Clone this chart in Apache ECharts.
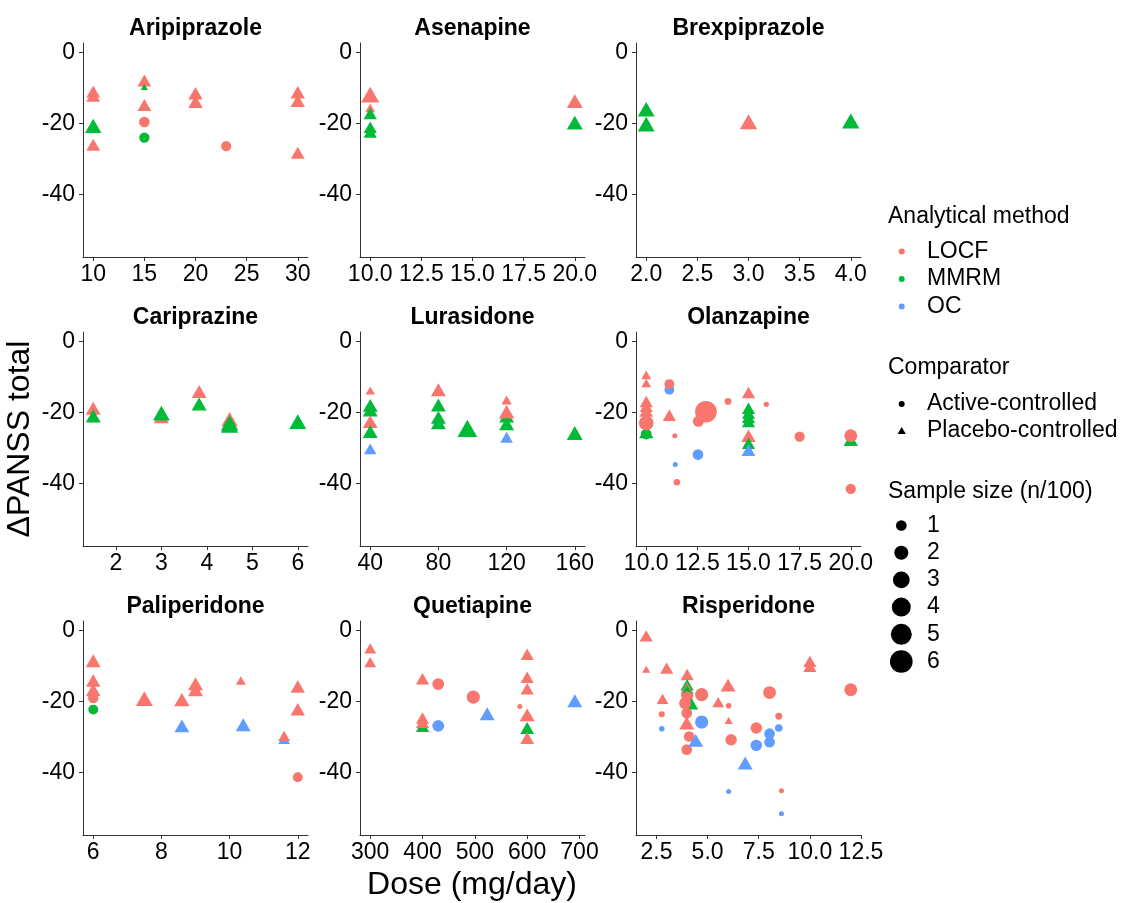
<!DOCTYPE html>
<html><head><meta charset="utf-8">
<script src="https://cdn.jsdelivr.net/npm/echarts@6/dist/echarts.min.js"></script>
<style>html,body{margin:0;padding:0;background:#fff}#c{width:1121px;height:903px}</style>
</head><body><div id="c"></div>
<script>
// ---------- data: [dose, ΔPANSS, n/100, method, comparator] ----------
const drugs = ['Aripiprazole','Asenapine','Brexpiprazole','Cariprazine','Lurasidone','Olanzapine','Paliperidone','Quetiapine','Risperidone'];

const aripiprazole = [
  [10,-11,0.9,'LOCF','P'],[10,-12.2,0.9,'LOCF','P'],[10,-20.7,1.4,'MMRM','P'],[10,-26,0.9,'LOCF','P'],
  [15,-7.9,0.9,'LOCF','P'],[15,-9.7,0.12,'MMRM','P'],[15,-14.8,0.9,'LOCF','P'],[15,-19.6,1.0,'LOCF','A'],[15,-24,0.9,'MMRM','A'],
  [20,-11.5,1.0,'LOCF','P'],[20,-13.9,1.0,'LOCF','P'],[23,-26.4,0.9,'LOCF','A'],
  [30,-11.2,1.0,'LOCF','P'],[30,-13.6,1.0,'LOCF','P'],[30,-28.3,0.9,'LOCF','P']
];
const asenapine = [
  [10,-11.9,1.8,'LOCF','P'],[10,-15.6,0.37,'LOCF','P'],[10,-17.2,0.8,'MMRM','P'],[10,-21.1,0.8,'MMRM','P'],[10,-22.4,0.8,'MMRM','P'],
  [20,-13.7,1.3,'LOCF','P'],[20,-19.8,1.3,'MMRM','P']
];
const brexpiprazole = [
  [2,-16,1.5,'MMRM','P'],[2,-20.2,1.5,'MMRM','P'],[3,-19.5,1.6,'LOCF','P'],[4,-19.3,1.6,'MMRM','P']
];
const cariprazine = [
  [1.5,-18.8,1.1,'LOCF','P'],[1.5,-21,1.1,'MMRM','P'],[3,-21.2,1.1,'LOCF','P'],[3,-20.2,1.5,'MMRM','P'],
  [3.83,-14.1,1.1,'LOCF','P'],[3.83,-17.6,1.1,'MMRM','P'],[4.5,-21.9,1.4,'LOCF','P'],[4.5,-23,1.6,'MMRM','P'],[4.5,-23.6,1.6,'MMRM','P'],
  [6,-22.6,1.5,'MMRM','P']
];
const lurasidone = [
  [40,-13.8,0.3,'LOCF','P'],[40,-18,1.1,'MMRM','P'],[40,-19.3,1.1,'MMRM','P'],[40,-22.6,1.1,'LOCF','P'],[40,-25.4,1.1,'MMRM','P'],[40,-30.3,0.7,'OC','P'],
  [80,-13.6,1.1,'LOCF','P'],[80,-17.9,1.1,'MMRM','P'],[80,-21.4,1.1,'MMRM','P'],[80,-22.9,1.1,'MMRM','P'],
  [97,-24.5,2.2,'MMRM','P'],
  [120,-16.5,0.4,'LOCF','P'],[120,-21,1.1,'MMRM','P'],[120,-19.8,1.2,'LOCF','P'],[120,-23.2,1.1,'MMRM','P'],[120,-27,0.7,'OC','P'],
  [160,-25.8,1.3,'MMRM','P']
];
const olanzapine = [
  [10,-9.4,0.35,'LOCF','P'],[10,-11.7,0.35,'LOCF','P'],[10,-16.9,0.8,'LOCF','P'],[10,-18.3,0.8,'LOCF','P'],[10,-19.5,0.9,'LOCF','P'],
  [10,-25.5,1.0,'MMRM','P'],[10,-26.1,1.0,'MMRM','A'],[10,-23,2.2,'LOCF','A'],
  [11.13,-13.6,0.8,'OC','A'],[11.13,-12,0.8,'LOCF','A'],[11.13,-20.8,0.8,'LOCF','P'],
  [11.4,-26.6,0.1,'LOCF','A'],[11.42,-34.7,0.1,'OC','A'],[11.5,-39.7,0.25,'LOCF','A'],
  [12.53,-31.9,1.0,'OC','A'],[12.92,-19.8,5.4,'LOCF','A'],[12.55,-22.5,1.1,'LOCF','A'],
  [14,-16.9,0.27,'LOCF','A'],[15.87,-17.7,0.12,'LOCF','A'],
  [15,-14.4,0.8,'LOCF','P'],[15,-18.8,0.8,'MMRM','P'],[15,-20.2,0.8,'MMRM','P'],[15,-21.4,0.8,'MMRM','P'],[15,-22.6,0.8,'MMRM','P'],
  [15,-26.6,1.0,'LOCF','P'],[15,-28.7,0.8,'MMRM','P'],[15,-30.6,0.9,'OC','P'],
  [17.5,-26.8,0.9,'LOCF','A'],
  [20,-27.7,1.0,'MMRM','P'],[20,-26.6,1.6,'LOCF','A'],[20,-41.6,0.9,'LOCF','A']
];
const paliperidone = [
  [6,-8.5,1.1,'LOCF','P'],[6,-14.1,1.0,'LOCF','P'],[6,-16.7,1.0,'LOCF','P'],[6,-18.1,0.9,'LOCF','A'],[6,-19.1,0.9,'LOCF','A'],[6,-22.3,0.8,'MMRM','A'],
  [7.5,-19.2,1.5,'LOCF','P'],[8.6,-19.5,1.2,'LOCF','P'],[8.6,-26.9,1.1,'OC','P'],[9,-15,1.1,'LOCF','P'],[9,-16.7,1.1,'LOCF','P'],
  [10.33,-14.1,0.37,'LOCF','P'],[10.4,-26.6,1.1,'OC','P'],[11.6,-30.6,0.6,'OC','P'],[11.6,-29.7,0.6,'LOCF','P'],
  [12,-15.8,1.0,'LOCF','P'],[12,-22.2,1.0,'LOCF','P'],[12,-41.4,0.8,'LOCF','A']
];
const quetiapine = [
  [300,-5,0.6,'LOCF','P'],[300,-8.9,0.6,'LOCF','P'],[400,-13.6,0.8,'LOCF','P'],[400,-27,0.8,'MMRM','P'],[400,-24.7,0.8,'LOCF','P'],[400,-25.9,0.8,'LOCF','P'],
  [430,-15.1,1.3,'LOCF','A'],[430,-26.9,1.3,'OC','A'],[497,-18.8,1.7,'LOCF','A'],[523.6,-23.5,1.1,'OC','P'],[586,-21.4,0.1,'LOCF','A'],
  [600,-6.7,0.8,'LOCF','P'],[600,-13.2,0.8,'LOCF','P'],[600,-16.4,0.8,'LOCF','P'],[600,-23.8,1.1,'LOCF','P'],[600,-27.5,0.9,'MMRM','P'],[600,-30.3,0.9,'LOCF','P'],
  [691,-19.8,1.1,'OC','P']
];
const risperidone = [
  [2.0,-1.5,0.8,'LOCF','P'],[2.0,-10.9,0.2,'LOCF','P'],[3.0,-10.6,0.8,'LOCF','P'],[2.8,-19.3,0.6,'LOCF','P'],[2.76,-23.6,0.2,'LOCF','A'],[2.76,-27.7,0.15,'OC','A'],
  [4,-12.4,0.8,'LOCF','P'],[4,-15.3,0.8,'MMRM','P'],[4,-16.2,0.8,'LOCF','P'],[4,-16.9,0.8,'MMRM','P'],[4,-18.8,1.2,'LOCF','A'],[4.22,-20.7,0.8,'MMRM','P'],
  [3.9,-20.5,1.3,'LOCF','A'],[3.98,-23.3,1.0,'LOCF','A'],[3.98,-26.1,1.1,'LOCF','P'],[4.1,-29.9,1.0,'LOCF','A'],[3.98,-33.6,1.0,'LOCF','A'],
  [4.42,-31,1.1,'OC','P'],[4.71,-18.1,1.7,'LOCF','A'],[4.71,-25.8,1.7,'OC','A'],
  [6.0,-15.4,1.1,'LOCF','P'],[5.52,-20.2,0.6,'LOCF','P'],[6.03,-21.2,0.15,'LOCF','A'],[6.03,-25.4,0.2,'LOCF','P'],[6.15,-30.8,1.2,'LOCF','A'],[6.03,-45.4,0.1,'OC','A'],
  [6.84,-37.4,1.1,'OC','P'],[7.38,-27.5,1.2,'LOCF','A'],[7.38,-32.4,1.2,'OC','A'],
  [8.03,-17.5,1.6,'LOCF','A'],[8.03,-29.1,1.0,'OC','A'],[8.03,-31.5,1.0,'OC','A'],
  [8.48,-24.2,0.3,'LOCF','A'],[8.48,-27.5,0.4,'OC','A'],[8.61,-45.2,0.1,'LOCF','A'],[8.61,-51.7,0.1,'OC','A'],
  [10,-8.7,0.8,'LOCF','P'],[10,-10.1,0.8,'LOCF','P'],[12,-16.7,1.6,'LOCF','A']
];
const panelData = [aripiprazole, asenapine, brexpiprazole, cariprazine, lurasidone, olanzapine, paliperidone, quetiapine, risperidone];

// ---------- axes ----------
const xMin = [9, 9.5, 1.9, 1.275, 34, 9.5, 5.7, 280.5, 1.5];
const xMax = [31, 20.5, 4.1, 6.225, 166, 20.5, 12.3, 710.5, 12.5];
const xTicks = [[10,15,20,25,30],[10,12.5,15,17.5,20],[2,2.5,3,3.5,4],[2,3,4,5,6],[40,80,120,160],[10,12.5,15,17.5,20],[6,8,10,12],[300,400,500,600,700],[2.5,5,7.5,10,12.5]];
const xDecimals = [0,1,1,0,0,1,0,0,1];
const yMin = -57.7, yMax = 2.7;
const yTicks = [-40,-20,0];

// ---------- legend ----------
const methods = ['LOCF','MMRM','OC'];
const comparators = ['Active-controlled','Placebo-controlled'];
const sizeBreaks = [1,2,3,4,5,6];

// ---------- styling ----------
const FONT = '"Liberation Sans", Arial, Helvetica, sans-serif';
const methodColor = {LOCF:'#F8766D', MMRM:'#00BA38', OC:'#619CFF'};
const colLeft = [83, 360, 636], rowTop = [43, 332, 621], PW = 225, PH = 214;
const diam = n => 2.4 + 8.28 * Math.sqrt(n);

const grids = [], xAxes = [], yAxes = [], series = [], graphics = [];
const axisLineStyle = {color:'#333', width:1};
drugs.forEach((name, i) => {
  const r = Math.floor(i / 3), c = i % 3;
  grids.push({left: colLeft[c], top: rowTop[r], width: PW, height: PH, containLabel:false, outerBoundsMode:'none'});
  xAxes.push({
    type:'value', gridIndex:i, min:xMin[i], max:xMax[i],
    axisLine:{show:true, onZero:false, lineStyle:axisLineStyle},
    axisTick:{show:true, length:4, customValues:xTicks[i], lineStyle:axisLineStyle},
    axisLabel:{show:true, customValues:xTicks[i], margin:6, fontSize:23, fontFamily:FONT, color:'#000',
      formatter: v => Number(v).toFixed(xDecimals[i])},
    splitLine:{show:false}
  });
  yAxes.push({
    type:'value', gridIndex:i, min:yMin, max:yMax,
    axisLine:{show:true, onZero:false, lineStyle:axisLineStyle},
    axisTick:{show:true, length:4, customValues:yTicks, lineStyle:axisLineStyle},
    axisLabel:{show:true, customValues:yTicks, margin:8, fontSize:23, fontFamily:FONT, color:'#000',
      formatter: v => String(Math.round(v))},
    splitLine:{show:false}
  });
  series.push({
    type:'scatter', xAxisIndex:i, yAxisIndex:i, silent:true, animation:false,
    data: panelData[i].map(p => {
      const d = diam(p[2]);
      const tri = p[4] === 'P';
      return {
        value:[p[0], p[1]],
        symbol: tri ? 'triangle' : 'circle',
        symbolSize: tri ? [1.347*d, 1.166*d] : d,
        itemStyle:{color: methodColor[p[3]], opacity:1}
      };
    })
  });
  graphics.push({type:'text', x: colLeft[c] + PW/2, y: rowTop[r] - 14,
    style:{text:name, font:'bold 23px ' + FONT, fill:'#000', textAlign:'center', textVerticalAlign:'middle'}});
});

// axis titles
graphics.push({type:'text', x:472, y:885, style:{text:'Dose (mg/day)', font:'32px ' + FONT, fill:'#000', textAlign:'center', textVerticalAlign:'middle'}});
graphics.push({type:'text', x:20, y:439, rotation:Math.PI/2, style:{text:'\u0394PANSS total', font:'32px ' + FONT, fill:'#000', textAlign:'center', textVerticalAlign:'middle'}});

// legends
const LF = '23px ' + FONT;
const addText = (t, x, y) => graphics.push({type:'text', x, y, style:{text:t, font:LF, fill:'#000', textAlign:'left', textVerticalAlign:'middle'}});
addText('Analytical method', 888, 217);
methods.forEach((m, k) => {
  const y = 251.5 + k * 27.5;
  graphics.push({type:'circle', shape:{cx:901.7, cy:y, r:3}, style:{fill:methodColor[m]}});
  addText(m, 927, y);
});
addText('Comparator', 888, 368);
comparators.forEach((m, k) => {
  const y = 404 + k * 27;
  if (k === 0) graphics.push({type:'circle', shape:{cx:901.7, cy:y, r:3}, style:{fill:'#000'}});
  else graphics.push({type:'polygon', shape:{points:[[901.7, y-4], [905.8, y+3], [897.6, y+3]]}, style:{fill:'#000'}});
  addText(m, 927, y);
});
addText('Sample size (n/100)', 888, 492);
sizeBreaks.forEach((s, k) => {
  const y = 525.5 + k * 27.2;
  graphics.push({type:'circle', shape:{cx:901.3, cy:y, r:diam(s)/2}, style:{fill:'#000'}});
  addText(String(s), 927, y);
});

const chart = echarts.init(document.getElementById('c'), null, {renderer:'canvas'});
chart.setOption({
  backgroundColor:'#fff', animation:false,
  grid:grids, xAxis:xAxes, yAxis:yAxes, series:series, graphic:graphics
});
</script></body></html>
